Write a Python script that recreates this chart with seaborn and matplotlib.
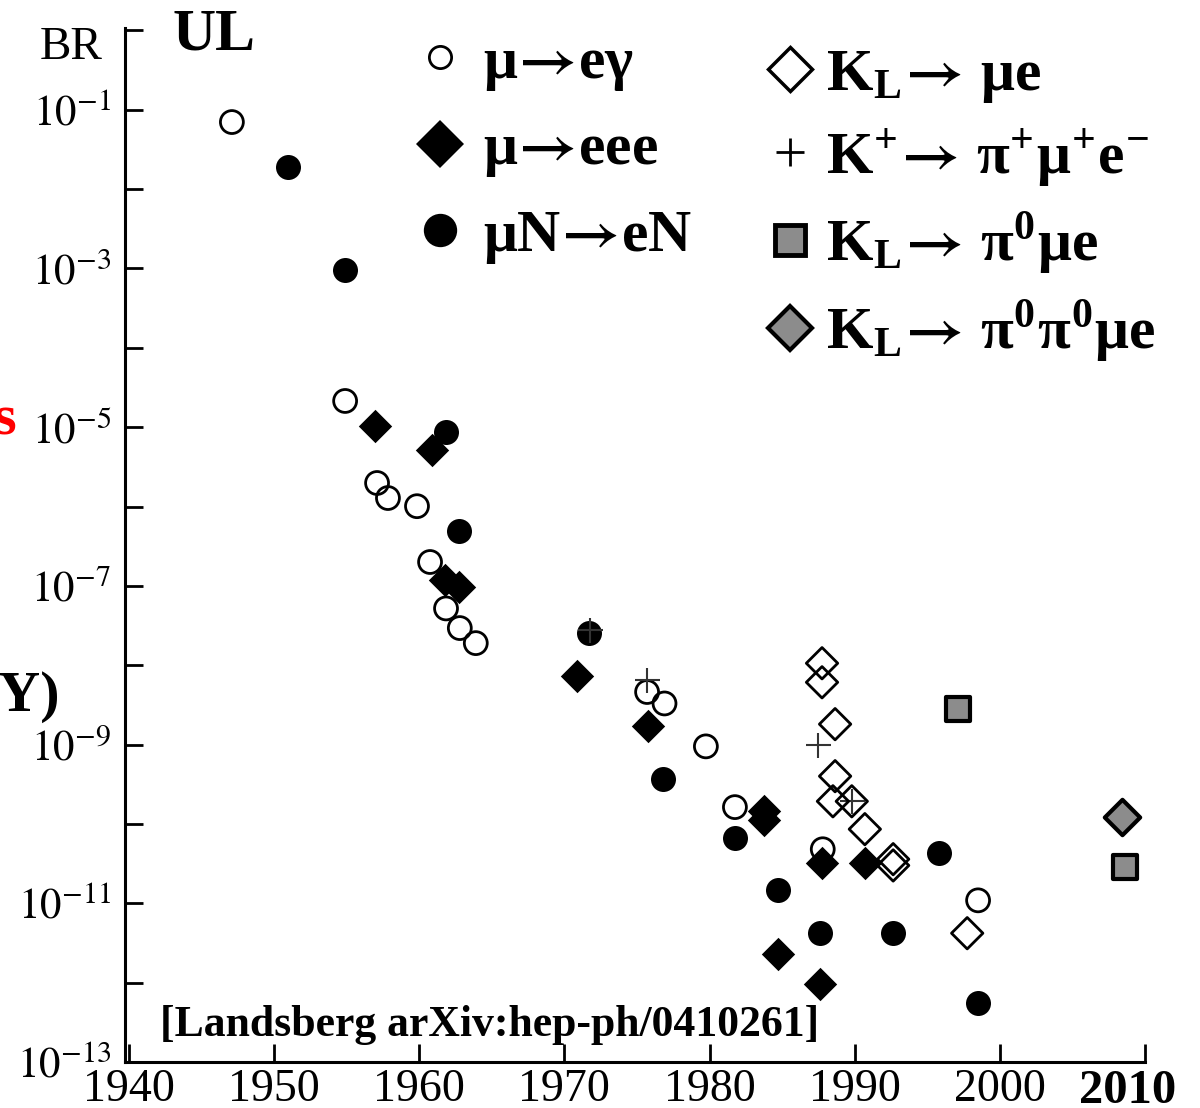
import numpy as np
import pandas as pd
import matplotlib
matplotlib.use("Agg")
import matplotlib.pyplot as plt
from matplotlib.lines import Line2D
from matplotlib.ticker import NullLocator
from matplotlib.transforms import ScaledTranslation
import seaborn as sns

# upper limits on lepton flavour violating decays
meg_year = [1947.1, 1954.9, 1957.1, 1957.85, 1959.85, 1960.75, 1961.85, 1962.8, 1963.9,
            1975.7, 1976.9, 1979.75, 1981.75, 1987.8, 1998.5]
meg_br = [7e-2, 2.14e-5, 1.98e-6, 1.28e-6, 1.01e-6, 2.0e-7, 5.2e-8, 2.94e-8, 1.9e-8,
          4.6e-9, 3.3e-9, 9.5e-10, 1.63e-10, 4.8e-11, 1.09e-11]

meee_year = [1956.95, 1960.9, 1961.8, 1962.75, 1970.9, 1975.75, 1983.75, 1983.75,
             1987.75, 1990.7, 1984.7, 1987.6]
meee_br = [1.03e-5, 5.15e-6, 1.18e-7, 9.7e-8, 7.3e-9, 1.71e-9, 1.45e-10, 1.11e-10,
           3.2e-11, 3.2e-11, 2.3e-12, 9.5e-13]

mue_year = [1950.95, 1954.9, 1961.85, 1962.75, 1971.7, 1976.8, 1981.75, 1995.8,
            1984.7, 1987.6, 1992.65, 1998.5]
mue_br = [1.9e-2, 9.6e-4, 8.7e-6, 4.9e-7, 2.54e-8, 3.66e-10, 6.6e-11, 4.3e-11,
          1.46e-11, 4.2e-12, 4.2e-12, 5.6e-13]

kpi_year = [1971.75, 1975.7, 1987.5, 1989.8]
kpi_br = [2.77e-8, 6.5e-9, 9.8e-10, 1.93e-10]

klme_year = [1987.75, 1987.75, 1988.65, 1988.65, 1988.5, 1989.8, 1990.7, 1992.65,
             1992.65, 1997.75]
klme_br = [1.06e-8, 6.1e-9, 1.81e-9, 4.0e-10, 1.93e-10, 1.93e-10, 8.6e-11, 3.6e-11,
           3.0e-11, 4.2e-12]

klpi_year = [1997.1, 2008.6]
klpi_br = [2.8e-9, 2.85e-11]

klpipi_year = [2008.4]
klpipi_br = [1.22e-10]

x_ticks = [1940, 1950, 1960, 1970, 1980, 1990, 2000, 2010]
x_labels = ["1940", "1950", "1960", "1970", "1980", "1990", "2000", "2010"]
y_exps = [0, -1, -2, -3, -4, -5, -6, -7, -8, -9, -10, -11, -12, -13]
y_labels = ["", r"$10^{-1}$", "", r"$10^{-3}$", "", r"$10^{-5}$", "", r"$10^{-7}$", "",
            r"$10^{-9}$", "", r"$10^{-11}$", "", r"$10^{-13}$"]

arrow = r"$\!\mathbf{\rightarrow}\!$"
labels_left = ["μ" + arrow + "eγ", "μ" + arrow + "eee", "μN" + arrow + "eN"]
labels_right = [r"K$_\mathregular{L}$" + arrow + " μe",
                r"K$^\mathregular{+}$" + arrow + r" π$^\mathregular{+}$μ$^\mathregular{+}$e$^\mathregular{−}$",
                r"K$_\mathregular{L}$" + arrow + r" π$^\mathregular{0}$μe",
                r"K$_\mathregular{L}$" + arrow + r" π$^\mathregular{0}$π$^\mathregular{0}$μe"]

sns.set_style("ticks")
plt.rcParams["font.family"] = ["Liberation Serif", "DejaVu Serif"]
plt.rcParams["mathtext.fontset"] = "stix"
plt.rcParams["text.color"] = "black"
plt.rcParams["xtick.color"] = "black"
plt.rcParams["ytick.color"] = "black"
plt.rcParams["axes.labelcolor"] = "black"

grey = "#8c8c8c"

fig = plt.figure(figsize=(12, 11.08), dpi=100)
ax = fig.add_axes([0.1042, 0.0415, 0.85, 0.9332])

sns.scatterplot(x=meg_year, y=meg_br, marker="o", s=16.5**2, facecolors="none",
                edgecolor="black", linewidth=2, ax=ax, zorder=3)
sns.scatterplot(x=meee_year, y=meee_br, marker="D", s=17**2, color="black",
                edgecolor="black", linewidth=0, ax=ax, zorder=4)
sns.scatterplot(x=mue_year, y=mue_br, marker="o", s=18**2, color="black",
                edgecolor="black", linewidth=0, ax=ax, zorder=4)
sns.scatterplot(x=kpi_year, y=kpi_br, marker="+", s=18**2, color="#333333",
                linewidth=1.5, ax=ax, zorder=5)
sns.scatterplot(x=klme_year, y=klme_br, marker="D", s=16**2, facecolors="none",
                edgecolor="black", linewidth=2, ax=ax, zorder=5)
sns.scatterplot(x=klpi_year, y=klpi_br, marker="s", s=17**2, color=grey,
                edgecolor="black", linewidth=3, ax=ax, zorder=5)
sns.scatterplot(x=klpipi_year, y=klpipi_br, marker="D", s=18**2, color=grey,
                edgecolor="black", linewidth=3, ax=ax, zorder=5)

ax.set_yscale("log")
ax.set_xlim(1939.74, 2010)
ax.set_ylim(1e-13, 10**0.03)
ax.set_yticks([10.0**e for e in y_exps])
ax.set_yticklabels(y_labels)
ax.yaxis.set_minor_locator(NullLocator())
ax.set_xticks(x_ticks)
ax.set_xticklabels(x_labels)
for spine in ["top", "right"]:
    ax.spines[spine].set_visible(False)
for spine in ["left", "bottom"]:
    ax.spines[spine].set_linewidth(2.2)
    ax.spines[spine].set_color("black")
ax.tick_params(axis="both", direction="in", length=13, width=2, colors="black")
ax.tick_params(axis="y", labelsize=31, pad=10)
ax.tick_params(axis="x", labelsize=33, pad=5)
last = ax.get_xticklabels()[-1]
last.set_fontweight("bold")
last.set_fontsize(35)
# the bold 2010 sits a little left of its tick in the original
last.set_transform(last.get_transform() + ScaledTranslation(-0.17, 0, fig.dpi_scale_trans))
ax.set_xlabel("")
ax.set_ylabel("")

# legend, split in two columns like the original slide
h_left = [
    Line2D([], [], ls="", marker="o", ms=16, mfc="none", mec="black", mew=2),
    Line2D([], [], ls="", marker="D", ms=24, mfc="black", mec="black", mew=0),
    Line2D([], [], ls="", marker="o", ms=24, mfc="black", mec="black", mew=0),
]
h_right = [
    Line2D([], [], ls="", marker="D", ms=22, mfc="none", mec="black", mew=2.5),
    Line2D([], [], ls="", marker="+", ms=20, mec="black", mew=2),
    Line2D([], [], ls="", marker="s", ms=22, mfc=grey, mec="black", mew=3.5),
    Line2D([], [], ls="", marker="D", ms=22, mfc=grey, mec="black", mew=3),
]
legend_font = {"family": "Liberation Serif", "weight": "bold", "size": 43}
leg1 = ax.legend(h_left, labels_left, loc="upper left", prop=legend_font,
                 bbox_to_anchor=(410 / 1200, 1 - 36 / 1108), bbox_transform=fig.transFigure,
                 frameon=False, borderpad=0, borderaxespad=0, handlelength=1.0,
                 handletextpad=0.22, labelspacing=0.5)
ax.add_artist(leg1)
ax.legend(h_right, labels_right, loc="upper left", prop=legend_font,
          bbox_to_anchor=(760 / 1200, 1 - 48 / 1108), bbox_transform=fig.transFigure,
          frameon=False, borderpad=0, borderaxespad=0, handlelength=1.0,
          handletextpad=0.1, labelspacing=0.35)

fig.text(40 / 1200, 1 - 48 / 1108, "BR", fontsize=34, va="center", ha="left")
fig.text(172 / 1200, 1 - 36 / 1108, "UL", fontsize=43, fontweight="bold", va="center", ha="left")
fig.text(160 / 1200, 1 - 1036 / 1108, "[Landsberg arXiv:hep-ph/0410261]", fontsize=31.5,
         fontweight="bold", va="baseline", ha="left")
fig.text(16 / 1200, 1 - 420 / 1108, "s", fontsize=42, fontweight="bold", color="red",
         va="center", ha="right")
fig.text(-2 / 1200, 1 - 697 / 1108, "Y)", fontsize=42, fontweight="bold", va="center", ha="left")

fig.savefig("out.png", dpi=100)
